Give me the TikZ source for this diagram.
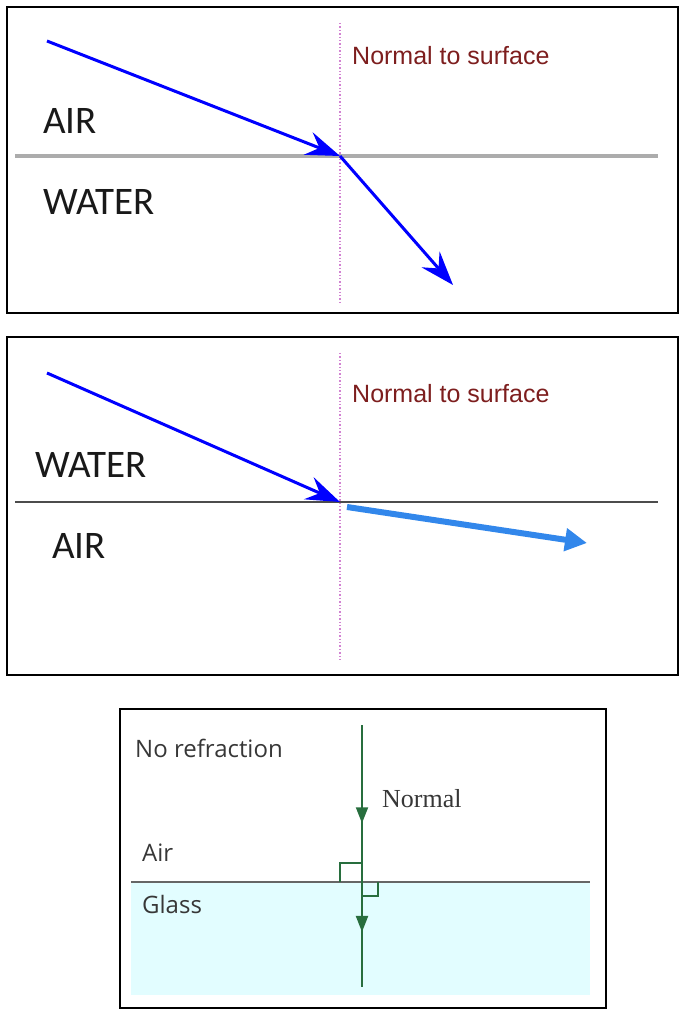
\documentclass[tikz,border=0pt]{standalone}
\usepackage{fontspec}
\usepackage{tikz}
\usetikzlibrary{arrows.meta,decorations.markings}
\newfontfamily\capfont{Carlito}
\newfontfamily\normfont{Liberation Sans}
\newfontfamily\plainfont{Open Sans}
\newfontfamily\serfont{Liberation Serif}
\definecolor{normred}{RGB}{125,30,30}
\definecolor{dotpink}{RGB}{210,130,210}
\definecolor{raylight}{RGB}{50,135,235}
\definecolor{normgreen}{RGB}{40,110,62}
\definecolor{glassfill}{RGB}{226,253,255}
\definecolor{labgray}{RGB}{55,55,55}

\begin{document}
\begin{tikzpicture}[
            x=1pt, y=-1pt,
            panel/.style={draw=black, line width=2pt},
            medium/.style={inner sep=0pt, anchor=base west, font=\capfont\fontsize{39}{39}\selectfont, text=black!90},
            normlabel/.style={inner sep=0pt, anchor=base west, font=\normfont\fontsize{25}{25}\selectfont, text=normred},
            smalllabel/.style={inner sep=0pt, anchor=base west, font=\plainfont\fontsize{24}{24}\selectfont, text=labgray},
            normal/.style={dotpink, line width=1.4pt, dotted},
            ray/.style={blue, line width=3pt, -{Stealth[length=34pt,width=24pt,inset=12pt]}},
            fastray/.style={raylight, line width=6pt, -{Triangle[length=22pt,width=22pt]}},
            greenray/.style={normgreen, line width=2pt,
                postaction={decorate, decoration={markings,
                    mark=at position 0.375 with {\arrow{Triangle[length=16pt,width=12pt]}},
                    mark=at position 0.79 with {\arrow{Triangle[length=16pt,width=12pt]}}}}}
        ]
            \useasboundingbox (0,0) rectangle (690,1030);

            \draw[panel] (7,7) rectangle (678,313);
            \coordinate (l1) at (15,156);
            \coordinate (r1) at (658,156);
            \coordinate (n1t) at (340,23);
            \coordinate (n1b) at (340,302);
            \coordinate (s1) at (47,41);
            \coordinate (o1) at (340,156);
            \coordinate (e1) at (453,285);
            \draw[gray!65, line width=4pt] (l1) -- (r1);
            \draw[normal] (n1t) -- (n1b);
            \draw[ray] (s1) -- (o1);
            \draw[ray] (o1) -- (e1);
            \node[medium] (air1) at (43,133) {AIR};
            \node[medium] (water1) at (43,214) {WATER};
            \node[normlabel] (norm1) at (352,65) {Normal to surface};

            \draw[panel] (7,337) rectangle (678,675);
            \coordinate (l2) at (15,502);
            \coordinate (r2) at (658,502);
            \coordinate (n2t) at (340,353);
            \coordinate (n2b) at (340,662);
            \coordinate (s2) at (47,373);
            \coordinate (o2) at (340,502);
            \coordinate (f2) at (347,507);
            \coordinate (e2) at (587,543);
            \draw[black!70, line width=2pt] (l2) -- (r2);
            \draw[normal] (n2t) -- (n2b);
            \draw[ray] (s2) -- (o2);
            \draw[fastray] (f2) -- (e2);
            \node[medium] (water2) at (35,477) {WATER};
            \node[medium] (air2) at (52,558) {AIR};
            \node[normlabel] (norm2) at (352,402) {Normal to surface};

            \draw[panel] (120,709) rectangle (606,1008);
            \fill[glassfill] (131,882) rectangle (590,995);
            \coordinate (l3) at (131,882);
            \coordinate (r3) at (590,882);
            \coordinate (g3t) at (362,725);
            \coordinate (g3b) at (362,987);
            \draw[gray!80!black, line width=1.5pt] (l3) -- (r3);
            \draw[greenray] (g3t) -- (g3b);
            \draw[normgreen, line width=1.7pt] (340,882) -- (340,863) -- (362,863);
            \draw[normgreen, line width=1.7pt] (362,896) -- (378,896) -- (378,882);
            \node[smalllabel] (norefr) at (135,757) {No refraction};
            \node[inner sep=0pt, anchor=base west, font=\serfont\fontsize{26}{26}\selectfont, text=labgray] (normtxt) at (382,807) {Normal};
            \node[smalllabel] (air3) at (142,861) {Air};
            \node[smalllabel] (glass3) at (142,913) {Glass};
        \end{tikzpicture}
\end{document}
